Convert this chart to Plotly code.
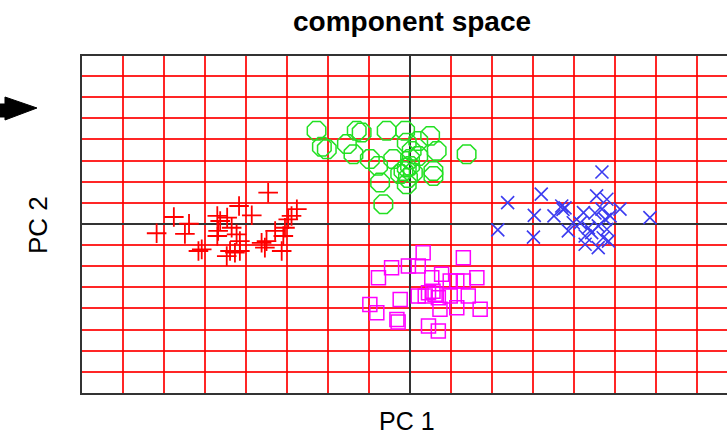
import plotly.graph_objects as go

# ---- data (component scores) ----
red_x = [-3.46, -4.17, -3.86, -2.76, -2.89, -5.76, -5.39, -5.49, -6.18, -5.16, -5.08,
         -4.70, -4.63, -4.46, -4.68, -4.70, -4.35, -4.23, -4.15, -4.39, -4.47, -4.27,
         -4.15, -3.62, -3.50, -3.54, -3.29, -3.09, -3.13, -3.05, -2.97]
red_y = [1.48, 0.85, 0.41, 0.70, 0.38, 0.33, 0.01, -0.47, -0.44, -1.28, -1.20,
         0.38, 0.14, 0.30, -0.33, -0.57, -0.18, -0.49, -0.81, -1.28, -1.52, -1.36,
         -1.28, -0.89, -0.81, -1.12, -0.33, -0.57, -1.28, -0.18, 0.22]

green_x = [-2.28, -2.03, -2.15, -1.30, -1.18, -1.54, -1.38, -0.98, -0.78, -0.73, -0.65,
           -0.57, -0.12, -0.41, -0.08, 0.20, 0.49, 0.65, 1.38, -0.08, -0.16, 0.00,
           0.07, -0.08, 0.57, 0.57, 0.04, 0.20, -0.24, -0.05, 0.00]
green_y = [4.41, 3.54, 3.65, 4.41, 4.33, 3.78, 3.30, 3.07, 2.75, 1.96, 0.93,
           4.41, 4.41, 3.07, 3.85, 3.93, 4.17, 3.46, 3.30, 2.67, 2.51, 2.75,
           2.42, 1.88, 2.51, 2.27, 3.46, 3.22, 2.37, 2.18, 3.08]

blue_x = [4.68, 3.20, 2.38, 3.03, 2.14, 3.01, 3.51, 3.70, 3.78, 3.73, 3.86,
          4.23, 4.55, 4.80, 5.12, 5.85, 4.68, 4.76, 4.35, 4.27, 4.43, 4.59,
          4.80, 4.71, 4.27, 4.59, 4.84, 3.98, 4.88, 4.51, 4.15]
blue_y = [2.46, 1.41, 1.01, 0.41, -0.28, -0.62, 0.38, 0.85, 0.76, 0.69, -0.33,
          0.54, 1.33, 1.17, 0.70, 0.30, 0.70, 0.22, -0.18, -0.57, -0.41, -0.09,
          -0.25, -0.65, -0.96, -1.12, -0.81, 0.06, 0.38, 0.52, 0.05]

mag_x = [0.32, 1.30, -0.45, -0.04, 0.20, -0.77, 0.53, 0.77, 0.98, 1.14, 1.30,
         1.63, -0.24, -0.98, -0.81, -0.32, -0.29, 0.20, 0.45, 0.61, 0.69, 0.56,
         0.98, 1.42, 1.14, 1.71, 0.73, 0.45, 0.69, 0.37]
mag_y = [-1.36, -1.60, -2.07, -1.99, -1.99, -2.55, -2.55, -2.38, -2.70, -2.70, -2.70,
         -2.55, -3.57, -3.81, -4.20, -4.52, -4.64, -3.41, -3.26, -3.33, -3.49, -3.18,
         -3.41, -3.41, -3.97, -4.04, -4.04, -4.83, -5.07, -3.41]

title_text = "component space"
x_label = "PC 1"
y_label = "PC 2"

RED = "#ff0000"
GREEN = "#22e022"
BLUE = "#3c3cf0"
MAGENTA = "#ff00ff"

fig = go.Figure()

fig.add_trace(go.Scatter(x=red_x, y=red_y, mode="markers",
                         marker=dict(symbol="cross-thin-open", size=14, color=RED,
                                     line=dict(color=RED, width=1.8))))
fig.add_trace(go.Scatter(x=green_x, y=green_y, mode="markers",
                         marker=dict(symbol="octagon-open", size=20, color=GREEN,
                                     line=dict(color=GREEN, width=1.5))))
fig.add_trace(go.Scatter(x=blue_x, y=blue_y, mode="markers",
                         marker=dict(symbol="x-thin-open", size=13, color=BLUE,
                                     line=dict(color=BLUE, width=1.6))))
fig.add_trace(go.Scatter(x=mag_x, y=mag_y, mode="markers",
                         marker=dict(symbol="square-open", size=14, color=MAGENTA,
                                     line=dict(color=MAGENTA, width=1.5))))

axis_common = dict(showticklabels=False, ticks="", dtick=1, tick0=0,
                   showgrid=True, gridcolor="rgba(255,0,0,0.85)", gridwidth=1.5,
                   zeroline=True, zerolinecolor="#333333", zerolinewidth=1.8,
                   showline=True, linecolor="#333333", linewidth=2)

fig.update_xaxes(range=[-8, 7.73], mirror=True, **axis_common)
fig.update_yaxes(range=[-8.0, 7.95], mirror=False, **axis_common)

fig.update_layout(
    width=727, height=439,
    margin=dict(l=82, r=0, t=56, b=46),
    showlegend=False,
    plot_bgcolor="white", paper_bgcolor="white",
    font=dict(family="Liberation Sans, Arial, sans-serif", color="black"),
    annotations=[
        dict(text="<b>%s</b>" % title_text, xref="paper", yref="paper", x=0.512, y=1.1009,
             xanchor="center", yanchor="middle", showarrow=False, font=dict(size=28)),
        dict(text=x_label, xref="paper", yref="paper", x=0.504, y=-0.0831,
             xanchor="center", yanchor="middle", showarrow=False, borderpad=0,
             font=dict(size=25)),
        dict(text=y_label, xref="paper", yref="paper", x=-0.0682, y=0.4985, textangle=-90,
             xanchor="center", yanchor="middle", showarrow=False, font=dict(size=26)),
    ],
    shapes=[
        dict(type="path", xref="paper", yref="paper",
             path="M -0.1271,0.8576 L -0.1194,0.8576 L -0.1194,0.8783 L -0.0698,0.8457 "
                  "L -0.1194,0.8101 L -0.1194,0.8190 L -0.1271,0.8190 Z",
             fillcolor="black", line=dict(color="black", width=1)),
    ],
)

fig.write_html("out.html")
